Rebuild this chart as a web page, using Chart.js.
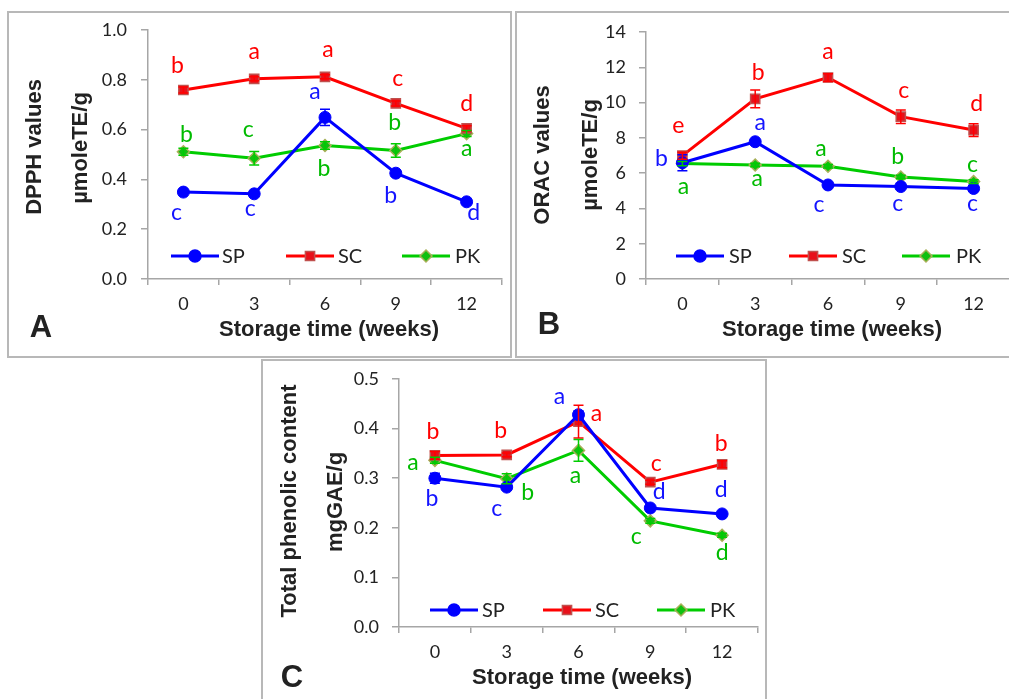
<!DOCTYPE html>
<html>
<head>
<meta charset="utf-8">
<script src="https://cdn.jsdelivr.net/npm/chart.js@4.4.1/dist/chart.umd.min.js"></script>
<style>
  html, body { margin: 0; padding: 0; background: #fff; }
  body { position: relative; width: 1009px; height: 699px; overflow: hidden; }
  .frame { position: absolute; box-sizing: border-box; border: 2px solid #b8b8b8; }
  canvas { position: absolute; }
</style>
</head>
<body>
<div class="frame" style="left:7px;top:11px;width:505px;height:347px"></div>
<div class="frame" style="left:515px;top:11px;width:510px;height:347px"></div>
<div class="frame" style="left:261px;top:359px;width:506px;height:360px"></div>
<canvas id="chartA" width="500" height="341" style="left:10px;top:14px"></canvas>
<canvas id="chartB" width="500" height="341" style="left:518px;top:14px"></canvas>
<canvas id="chartC" width="502" height="338" style="left:264px;top:361px"></canvas>
<script>
// storage time categories
const weeks = ['0', '3', '6', '9', '12'];
const seriesNames = ['SP', 'SC', 'PK'];

// A: DPPH (µmoleTE/g)
const dpphSP = [0.349, 0.342, 0.649, 0.425, 0.310];
const dpphSC = [0.759, 0.804, 0.812, 0.705, 0.605];
const dpphPK = [0.511, 0.485, 0.536, 0.516, 0.584];
const dpphErrSP = [0.008, 0.008, 0.033, 0.012, 0.008];
const dpphErrSC = [0.012, 0.008, 0.008, 0.010, 0.010];
const dpphErrPK = [0.014, 0.027, 0.015, 0.027, 0.012];
const dpphLetSP = ['c', 'c', 'a', 'b', 'd'];
const dpphLetSC = ['b', 'a', 'a', 'c', 'd'];
const dpphLetPK = ['b', 'c', 'b', 'b', 'a'];

// B: ORAC (µmoleTE/g)
const oracSP = [6.59, 7.78, 5.33, 5.24, 5.13];
const oracSC = [6.99, 10.21, 11.42, 9.20, 8.44];
const oracPK = [6.54, 6.46, 6.39, 5.78, 5.52];
const oracErrSP = [0.45, 0.10, 0.10, 0.10, 0.10];
const oracErrSC = [0.20, 0.50, 0.22, 0.38, 0.36];
const oracErrPK = [0.12, 0.10, 0.10, 0.10, 0.10];
const oracLetSP = ['b', 'a', 'c', 'c', 'c'];
const oracLetSC = ['e', 'b', 'a', 'c', 'd'];
const oracLetPK = ['a', 'a', 'a', 'b', 'c'];

// C: total phenolic content (mgGAE/g)
const tpcSP = [0.300, 0.282, 0.428, 0.240, 0.228];
const tpcSC = [0.346, 0.347, 0.414, 0.292, 0.328];
const tpcPK = [0.336, 0.299, 0.356, 0.214, 0.185];
const tpcErrSP = [0.010, 0.004, 0.008, 0.004, 0.003];
const tpcErrSC = [0.008, 0.004, 0.033, 0.004, 0.007];
const tpcErrPK = [0.006, 0.010, 0.022, 0.005, 0.004];
const tpcLetSP = ['b', 'c', 'a', 'd', 'd'];
const tpcLetSC = ['b', 'b', 'a', 'c', 'b'];
const tpcLetPK = ['a', 'b', 'a', 'c', 'd'];

// look of each series
const styles = [
  { line: '#0000ff', text: '#1414ff', shape: 'circle', r: 6, fill: '#0000ff', edge: '#0000ff' },
  { line: '#ff0000', text: '#ff0000', shape: 'rect', r: 6.5, fill: '#e8101a', edge: '#c0504d' },
  { line: '#00cc00', text: '#00bb00', shape: 'rectRot', r: 6, fill: '#10c010', edge: '#a8b058' }
];

const AXIS = '#a6a6a6';
const INK = '#222';
const TICK_FONT = { family: 'Lato', size: 18 };
const TITLE_FONT = 'bold 22px "Liberation Sans", Arial, sans-serif';

function drawMarker(ctx, s, x, y) {
  ctx.fillStyle = s.fill;
  ctx.strokeStyle = s.edge;
  ctx.lineWidth = 1.5;
  ctx.beginPath();
  if (s.shape === 'circle') {
    ctx.arc(x, y, s.r, 0, Math.PI * 2);
  } else if (s.shape === 'rect') {
    const h = s.r * Math.SQRT1_2;
    ctx.rect(x - h, y - h, 2 * h, 2 * h);
  } else {
    ctx.moveTo(x, y - s.r); ctx.lineTo(x + s.r, y); ctx.lineTo(x, y + s.r); ctx.lineTo(x - s.r, y);
    ctx.closePath();
  }
  ctx.fill();
  ctx.stroke();
}

const decor = {
  id: 'decor',
  afterDatasetsDraw(chart, args, o) {
    const ctx = chart.ctx, xs = chart.scales.x, ys = chart.scales.y;
    ctx.save();
    chart.data.datasets.forEach((ds, i) => {
      ctx.strokeStyle = ds.borderColor;
      ctx.lineWidth = 1.5;
      ds.data.forEach((v, j) => {
        const px = xs.getPixelForValue(j);
        const y1 = ys.getPixelForValue(v - o.errors[i][j]);
        const y2 = ys.getPixelForValue(v + o.errors[i][j]);
        ctx.beginPath();
        ctx.moveTo(px, y1); ctx.lineTo(px, y2);
        ctx.moveTo(px - 5, y1); ctx.lineTo(px + 5, y1);
        ctx.moveTo(px - 5, y2); ctx.lineTo(px + 5, y2);
        ctx.stroke();
      });
    });
    ctx.restore();
  },
  afterDraw(chart, args, o) {
    const ctx = chart.ctx, xs = chart.scales.x, ys = chart.scales.y;
    const [ox, oy] = o.origin;
    ctx.save();
    // significance letters
    ctx.font = '23px Lato';
    ctx.textAlign = 'center';
    ctx.textBaseline = 'middle';
    chart.data.datasets.forEach((ds, i) => {
      ctx.fillStyle = styles[i].text;
      ds.data.forEach((v, j) => {
        const [dx, dy] = o.offsets[i][j];
        ctx.fillText(o.letters[i][j], xs.getPixelForValue(j) + dx, ys.getPixelForValue(v) + dy);
      });
    });
    // legend inside the plot
    ctx.font = '20px Lato';
    ctx.textAlign = 'left';
    const ly = o.legendY - oy;
    o.legendX.forEach((p, i) => {
      const s = styles[i];
      const x0 = p[0] - ox;
      ctx.strokeStyle = s.line;
      ctx.lineWidth = 3;
      ctx.beginPath(); ctx.moveTo(x0, ly); ctx.lineTo(x0 + 48, ly); ctx.stroke();
      drawMarker(ctx, s, x0 + 24, ly);
      ctx.fillStyle = INK;
      ctx.fillText(chart.data.datasets[i].label, p[1] - ox, ly + 1);
    });
    // axis titles
    ctx.fillStyle = INK;
    ctx.font = TITLE_FONT;
    ctx.textAlign = 'center';
    o.titles.forEach(t => {
      ctx.save();
      ctx.translate(t.x - ox, t.y - oy);
      if (t.rot) ctx.rotate(-Math.PI / 2);
      ctx.fillText(t.text, 0, 0);
      ctx.restore();
    });
    // panel letter
    ctx.font = 'bold 31px "Liberation Sans", Arial, sans-serif';
    ctx.fillText(o.panel.text, o.panel.x - ox, o.panel.y - oy);
    ctx.restore();
  }
};

function makePanel(id, p) {
  const datasets = p.series.map((d, i) => ({
    label: seriesNames[i],
    data: d,
    borderColor: styles[i].line,
    borderWidth: 3,
    tension: 0,
    pointStyle: styles[i].shape,
    pointRadius: styles[i].r,
    pointBackgroundColor: styles[i].fill,
    pointBorderColor: styles[i].edge,
    pointBorderWidth: i === 0 ? 1 : 1.5
  }));
  return new Chart(document.getElementById(id), {
    type: 'line',
    data: { labels: weeks, datasets },
    plugins: [decor],
    options: {
      responsive: false,
      animation: false,
      layout: { padding: { left: 0, top: p.top, right: p.right, bottom: 0 } },
      plugins: {
        legend: { display: false },
        tooltip: { enabled: false },
        decor: p.decor
      },
      scales: {
        x: {
          type: 'category',
          offset: true,
          ticks: { color: INK, font: TICK_FONT, padding: 8, maxRotation: 0, autoSkip: false },
          grid: { offset: true, drawOnChartArea: false, color: AXIS, tickLength: 6, lineWidth: 1.5 },
          border: { color: AXIS, width: 1.5 },
          afterFit: s => { s.height = p.xHeight; }
        },
        y: {
          min: p.min, max: p.max,
          ticks: { stepSize: p.step, color: INK, font: TICK_FONT, padding: p.tickPad,
                   callback: v => v.toFixed(p.digits) },
          grid: { drawOnChartArea: false, color: AXIS, tickLength: 7, lineWidth: 1.5 },
          border: { color: AXIS, width: 1.5 },
          // keep the plot top fixed: the label overflow is covered by layout padding
          afterFit: s => { s.width = p.yWidth; s.paddingTop = 0; s.paddingBottom = 0; }
        }
      }
    }
  });
}

makePanel('chartA', {
  series: [dpphSP, dpphSC, dpphPK],
  min: 0, max: 1, step: 0.2, digits: 1,
  top: 16, right: 0, yWidth: 138, xHeight: 76, tickPad: 14,
  decor: {
    origin: [10, 14],
    errors: [dpphErrSP, dpphErrSC, dpphErrPK],
    letters: [dpphLetSP, dpphLetSC, dpphLetPK],
    offsets: [
      [[-7, 20], [-4, 15], [-10, -26], [-5, 22], [7, 11]],
      [[-6, -24], [0, -27], [3, -27], [2, -25], [0, -25]],
      [[3, -17], [-6, -29], [-1, 23], [-1, -28], [0, 15]]
    ],
    legendY: 256,
    legendX: [[171, 222], [286, 338], [402, 455]],
    titles: [
      { text: 'DPPH values', x: 35, y: 147, rot: true },
      { text: 'µmoleTE/g', x: 81, y: 148, rot: true },
      { text: 'Storage time (weeks)', x: 329, y: 330 }
    ],
    panel: { text: 'A', x: 41, y: 328 }
  }
});

makePanel('chartB', {
  series: [oracSP, oracSC, oracPK],
  min: 0, max: 14, step: 2, digits: 0,
  top: 18, right: 0, yWidth: 128, xHeight: 76, tickPad: 13,
  decor: {
    origin: [518, 14],
    errors: [oracErrSP, oracErrSC, oracErrPK],
    letters: [oracLetSP, oracLetSC, oracLetPK],
    offsets: [
      [[-21, -4], [5, -19], [-9, 20], [-3, 17], [-1, 15]],
      [[-4, -30], [3, -26], [0, -26], [3, -26], [3, -27]],
      [[1, 23], [2, 14], [-7, -18], [-3, -20], [-1, -17]]
    ],
    legendY: 256,
    legendX: [[676, 729], [789, 842], [902, 956]],
    titles: [
      { text: 'ORAC values', x: 543, y: 155, rot: true },
      { text: 'µmoleTE/g', x: 591, y: 155, rot: true },
      { text: 'Storage time (weeks)', x: 832, y: 330 }
    ],
    panel: { text: 'B', x: 549, y: 325 }
  }
});

makePanel('chartC', {
  series: [tpcSP, tpcSC, tpcPK],
  min: 0, max: 0.5, step: 0.1, digits: 1,
  top: 18, right: 1, yWidth: 135, xHeight: 72, tickPad: 13,
  decor: {
    origin: [264, 361],
    errors: [tpcErrSP, tpcErrSC, tpcErrPK],
    letters: [tpcLetSP, tpcLetSC, tpcLetPK],
    offsets: [
      [[-3, 20], [-10, 21], [-19, -18], [9, -16], [-1, -24]],
      [[-2, -24], [-6, -24], [18, -8], [6, -19], [-1, -21]],
      [[-22, 2], [21, 14], [-3, 25], [-14, 16], [0, 17]]
    ],
    legendY: 610,
    legendX: [[430, 482], [543, 595], [657, 710]],
    titles: [
      { text: 'Total phenolic content', x: 290, y: 501, rot: true },
      { text: 'mgGAE/g', x: 336, y: 502, rot: true },
      { text: 'Storage time (weeks)', x: 582, y: 678 }
    ],
    panel: { text: 'C', x: 292, y: 678 }
  }
});
</script>
</body>
</html>
